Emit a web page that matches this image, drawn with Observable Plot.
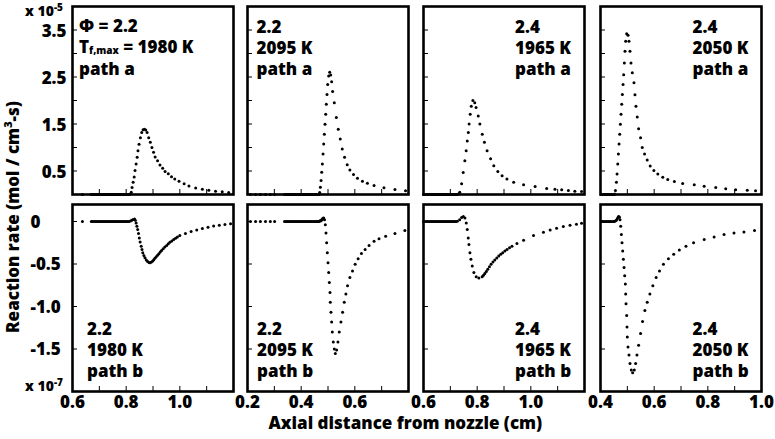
<!DOCTYPE html>
<html><head><meta charset="utf-8">
<script src="https://cdn.jsdelivr.net/npm/d3@7"></script>
<script src="https://cdn.jsdelivr.net/npm/@observablehq/plot@0.6"></script>
<style>
body{margin:0;background:#fff;}
#chart{position:relative;width:775px;height:439px;font-family:"Open Sans",sans-serif;font-weight:800;color:#000;overflow:hidden;background:#fff}
.ann{position:absolute;font-size:17px;line-height:21px;white-space:nowrap}
.ann sub{font-size:10px;line-height:0;vertical-align:-1px}
.mult{position:absolute;font-size:14px;line-height:14px;white-space:nowrap}
.mult sup{font-size:10px;line-height:0;vertical-align:5px}
.ytitle{position:absolute;font-size:17px;line-height:18px;white-space:nowrap;transform-origin:center center}
.ytitle sup{font-size:11px;line-height:0;vertical-align:7px}
.xtitle{position:absolute;font-size:17px;line-height:16px;white-space:nowrap}
</style></head><body><div id="chart"></div><script>
// ---------------- data (x in cm, top rows in 1e-5, bottom rows in 1e-7 mol/cm3-s) ----------------
const phiLabels = ["2.2", "2.2", "2.4", "2.4"];
const tempLabels = ["1980 K", "2095 K", "1965 K", "2050 K"];
const xDomains = [[0.6, 1.2], [0.2, 0.8], [0.6, 1.2], [0.4, 1.0]];
const xTickLabels = [[0.6, 0.8, 1.0], [0.2, 0.4, 0.6], [0.6, 0.8, 1.0], [0.4, 0.6, 0.8, 1.0]];
const xMinorTicks = [[0.7, 0.8, 0.9, 1.0, 1.1], [0.3, 0.4, 0.5, 0.6, 0.7], [0.7, 0.8, 0.9, 1.0, 1.1], [0.5, 0.6, 0.7, 0.8, 0.9]];
const yTopDomain = [0, 4];
const yBotDomain = [-2, 0.2];
const yTopLabels = [0.5, 1.5, 2.5, 3.5];
const yTopTicks = [0.5, 1, 1.5, 2, 2.5, 3, 3.5];
const yBotLabels = [0, -0.5, -1.0, -1.5];

// x positions of the flat (zero-rate) grid points before each flame, per column
const flat_22_1980 = [0.637,0.670,0.675,0.680,0.685,0.690,0.695,0.700,0.705,0.710,0.715,0.720,0.725,0.730,0.735,0.740,0.745,0.750,0.755,0.760,0.765,0.770,0.775,0.780,0.785,0.790,0.795,0.800,0.805,0.810];
const flat_22_2095 = [0.211,0.230,0.248,0.267,0.285,0.301,0.338,0.343,0.348,0.353,0.358,0.363,0.368,0.373,0.378,0.383,0.388,0.393,0.398,0.403,0.408,0.413,0.418,0.423,0.428,0.433,0.438,0.443,0.448,0.453,0.458,0.463,0.466];
const flat_24_1965 = [0.600,0.605,0.610,0.615,0.620,0.625,0.630,0.635,0.640,0.645,0.650,0.655,0.660,0.665,0.670,0.675,0.680,0.685,0.690,0.695,0.700,0.705,0.710,0.715,0.720];
const flat_24_2050 = [0.403,0.408,0.413,0.418,0.423,0.428,0.433,0.438,0.443,0.448,0.451];

const pathA_22_1980 = [[0.816,0.01],
 [0.819,0.05],[0.822,0.15],[0.826,0.26],[0.830,0.37],[0.833,0.51],[0.837,0.65],[0.841,0.79],[0.844,0.93],[0.848,1.07],[0.853,1.21],[0.858,1.32],[0.863,1.38],[0.868,1.39],[0.873,1.37],
 [0.878,1.32],[0.884,1.21],[0.890,1.11],[0.896,1.00],[0.902,0.90],[0.908,0.80],[0.917,0.72],[0.926,0.63],[0.936,0.56],[0.945,0.49],[0.957,0.44],[0.969,0.38],[0.981,0.33],[0.997,0.28],
 [1.016,0.23],[1.034,0.18],[1.059,0.14],[1.084,0.11],[1.108,0.09],[1.133,0.07],[1.158,0.057],[1.182,0.042]];

const pathB_22_1980 = [
 [0.816,0.005],[0.821,0.015],[0.826,0.024],[0.831,0.029],[0.834,0.015],[0.837,-0.018],[0.840,-0.055],[0.843,-0.095],[0.846,-0.14],[0.849,-0.193],[0.852,-0.24],[0.856,-0.29],[0.859,-0.33],
 [0.862,-0.368],[0.866,-0.40],[0.870,-0.426],[0.875,-0.452],[0.880,-0.472],[0.885,-0.482],[0.889,-0.484],[0.894,-0.476],[0.899,-0.464],[0.903,-0.449],[0.907,-0.433],[0.912,-0.416],
 [0.917,-0.398],[0.922,-0.38],[0.927,-0.36],[0.932,-0.34],[0.938,-0.32],[0.944,-0.30],[0.951,-0.281],[0.957,-0.262],[0.963,-0.243],[0.970,-0.228],[0.977,-0.212],[0.984,-0.196],
 [0.991,-0.181],[1.000,-0.166],[1.021,-0.141],[1.042,-0.118],[1.063,-0.099],[1.084,-0.083],[1.105,-0.067],[1.126,-0.054],[1.147,-0.044],[1.168,-0.034],[1.189,-0.026]];

const pathA_22_2095 = [[0.469,0.04],
 [0.4716,0.155],[0.4741,0.296],[0.4765,0.472],[0.479,0.649],[0.4815,0.861],[0.484,1.072],[0.4864,1.284],[0.4889,1.496],[0.4914,1.707],[0.4938,1.919],[0.4963,2.13],[0.4988,2.34],
 [0.5025,2.52],[0.5062,2.60],[0.5099,2.54],[0.5136,2.40],[0.5173,2.19],[0.5235,1.95],[0.5309,1.64],[0.5383,1.39],[0.5457,1.18],[0.5531,0.967],[0.5617,0.79],[0.5716,0.635],
 [0.5815,0.522],[0.5951,0.423],[0.6099,0.345],[0.6284,0.282],[0.6469,0.24],[0.6716,0.19],[0.7086,0.141],[0.7494,0.106],[0.7889,0.078]];

const pathB_22_2095 = [
 [0.469,0.005],[0.4716,0.008],[0.4741,0.01],[0.4765,0.02],[0.479,0.03],[0.4815,0.038],[0.484,0.04],[0.487,0.02],[0.490,-0.037],[0.4926,-0.134],[0.495,-0.25],[0.4975,-0.368],[0.5,-0.484],[0.5025,-0.60],
 [0.505,-0.717],[0.5074,-0.834],[0.5086,-0.95],[0.511,-1.067],[0.5136,-1.183],[0.516,-1.30],[0.5198,-1.417],[0.5235,-1.50],[0.5272,-1.552],[0.5321,-1.513],[0.537,-1.417],
 [0.542,-1.30],[0.5481,-1.183],[0.5543,-1.067],[0.5605,-0.95],[0.5667,-0.852],[0.5728,-0.756],[0.5815,-0.659],[0.5914,-0.581],[0.6012,-0.503],[0.6123,-0.437],[0.6247,-0.375],
 [0.6383,-0.328],[0.6531,-0.281],[0.6716,-0.231],[0.6901,-0.204],[0.7148,-0.173],[0.7494,-0.142],[0.7864,-0.107]];

const pathA_24_1965 = [[0.725,0],[0.730,0.01],
 [0.735,0.05],[0.742,0.23],[0.748,0.47],[0.754,0.72],[0.759,0.93],[0.763,1.14],[0.767,1.32],[0.770,1.50],[0.774,1.71],[0.778,1.88],[0.784,2.00],[0.791,1.95],[0.796,1.85],
 [0.804,1.67],[0.810,1.50],[0.819,1.28],[0.827,1.11],[0.837,0.93],[0.850,0.76],[0.862,0.61],[0.877,0.49],[0.893,0.40],[0.911,0.33],[0.936,0.26],[0.973,0.21],[1.016,0.17],
 [1.059,0.13],[1.090,0.11],[1.115,0.10],[1.140,0.085],[1.164,0.07],[1.189,0.063]];

const pathB_24_1965 = [
 [0.726,0.002],[0.7347,0.021],[0.7421,0.048],[0.7483,0.06],[0.7544,0.04],[0.7594,-0.018],[0.7631,-0.095],[0.7668,-0.193],[0.7693,-0.27],[0.773,-0.368],[0.7767,-0.445],
 [0.7816,-0.523],[0.7878,-0.60],[0.7964,-0.651],[0.8063,-0.666],[0.8186,-0.651],[0.8236,-0.633],[0.8285,-0.612],[0.834,-0.587],[0.8396,-0.561],[0.8457,-0.532],[0.8519,-0.503],
 [0.8587,-0.477],[0.8656,-0.453],[0.873,-0.429],[0.8804,-0.406],[0.8878,-0.386],[0.8952,-0.368],[0.9032,-0.347],[0.9112,-0.328],[0.9205,-0.308],[0.9297,-0.29],[0.9483,-0.258],
 [0.973,-0.22],[1.01,-0.165],[1.047,-0.125],[1.072,-0.10],[1.096,-0.078],[1.121,-0.06],[1.146,-0.045],[1.17,-0.032],[1.189,-0.022]];

const pathA_24_2050 = [[0.453,0.01],
 [0.4556,0.085],[0.4593,0.261],[0.4617,0.437],[0.4642,0.649],[0.4667,0.861],[0.4691,1.072],[0.4716,1.284],[0.4741,1.496],[0.4765,1.707],[0.479,1.919],[0.4815,2.13],[0.484,2.34],
 [0.4864,2.55],[0.4889,2.80],[0.4914,3.05],[0.4938,3.26],[0.4975,3.42],[0.5025,3.39],[0.5062,3.26],[0.5099,3.05],[0.5136,2.80],[0.5185,2.59],[0.5247,2.38],[0.5284,2.12],
 [0.5321,1.88],[0.537,1.65],[0.542,1.40],[0.5494,1.21],[0.5556,1.00],[0.5642,0.861],[0.5741,0.734],[0.5852,0.607],[0.5988,0.508],[0.6136,0.437],[0.6321,0.367],[0.6506,0.317],
 [0.6753,0.275],[0.7062,0.233],[0.7494,0.205],[0.7864,0.176],[0.8296,0.148],[0.8667,0.12],[0.9037,0.099],[0.9469,0.092],[0.9778,0.078]];

const pathB_24_2050 = [
 [0.455,0.005],[0.459,0.015],[0.463,0.035],[0.466,0.052],[0.468,0.06],[0.4705,0.05],[0.4728,0.021],[0.4753,-0.056],[0.4778,-0.153],[0.4802,-0.251],[0.4827,-0.348],[0.4852,-0.445],
 [0.4877,-0.542],[0.4901,-0.639],[0.4926,-0.736],[0.4938,-0.853],[0.4951,-0.969],[0.4975,-1.105],[0.4988,-1.242],[0.5,-1.358],[0.5025,-1.475],[0.5062,-1.572],[0.5099,-1.67],
 [0.5148,-1.746],[0.5198,-1.778],[0.5259,-1.746],[0.5309,-1.67],[0.5358,-1.572],[0.542,-1.455],[0.5494,-1.319],[0.5568,-1.175],[0.5654,-1.047],[0.5741,-0.95],[0.584,-0.853],
 [0.5951,-0.756],[0.6074,-0.659],[0.6198,-0.581],[0.6346,-0.503],[0.6531,-0.437],[0.6728,-0.386],[0.6938,-0.336],[0.7185,-0.29],[0.7469,-0.251],[0.7864,-0.212],[0.8235,-0.181],
 [0.8605,-0.153],[0.8975,-0.134],[0.9346,-0.123],[0.974,-0.107]];

const flats = [flat_22_1980, flat_22_2095, flat_24_1965, flat_24_2050];
const pathA = [pathA_22_1980, pathA_22_2095, pathA_24_1965, pathA_24_2050];
const pathB = [pathB_22_1980, pathB_22_2095, pathB_24_1965, pathB_24_2050];

// ---------------- layout ----------------
const chart = document.getElementById("chart");
const colLeft = [71.5, 246.5, 423, 599.5];
const W = 161;
const rowTop = [5.5, 204];
const rowH = [188, 187];
const M = 2;

function panel(data, xdom, ydom, xMinor, yMinor, H, extra) {
  const marks = [
    Plot.tickX(xMinor, {x: d => d, insetTop: H - 5, stroke: "black", strokeWidth: 1}),
    Plot.tickY(yMinor, {y: d => d, insetRight: W - 5, stroke: "black", strokeWidth: 1}),
    Plot.dot(data, {x: d => d[0], y: d => d[1], r: 1.5, fill: "black", stroke: null}),
    Plot.frame({stroke: "black", strokeWidth: 2.6}),
    ...extra
  ];
  const hasX = extra.some(m => m._axis === "x");
  const hasY = extra.some(m => m._axis === "y");
  return Plot.plot({
    width: W + 2 * M, height: H + 2 * M,
    marginTop: M, marginBottom: M, marginLeft: M, marginRight: M,
    x: {domain: xdom, ...(hasX ? {} : {axis: null})},
    y: {domain: ydom, ...(hasY ? {} : {axis: null})},
    style: {background: "transparent", overflow: "visible", fontFamily: "Open Sans", fontWeight: 800, fontSize: "17px", color: "black"},
    marks
  });
}

function place(svg, left, top) {
  svg.style.position = "absolute";
  svg.style.left = left + "px";
  svg.style.top = top + "px";
  chart.appendChild(svg);
}

for (let c = 0; c < 4; c++) {
  const flatPts = flats[c].map(x => [x, 0]);
  // top row: path a
  const extraTop = [];
  if (c === 0) {
    const ax = Plot.axisY(yTopLabels, {anchor: "left", tickSize: 0, tickPadding: 6, dy: 2, tickFormat: d => d.toFixed(1), fill: "black"});
    ax._axis = "y";
    extraTop.push(ax);
  }
  place(panel(flatPts.concat(pathA[c]), xDomains[c], yTopDomain, xMinorTicks[c], yTopTicks, rowH[0], extraTop), colLeft[c] - M, rowTop[0] - M);

  // bottom row: path b
  const extraBot = [];
  const axX = Plot.axisX(xTickLabels[c], {anchor: "bottom", tickSize: 0, tickPadding: 4, tickFormat: d => d.toFixed(1), fill: "black"});
  axX._axis = "x";
  extraBot.push(axX);
  if (c === 0) {
    const ay = Plot.axisY(yBotLabels, {anchor: "left", tickSize: 0, tickPadding: 42, textAnchor: "start", dy: 1, tickFormat: d => d === 0 ? "0" : d.toFixed(1), fill: "black"});
    ay._axis = "y";
    extraBot.push(ay);
  }
  place(panel(flatPts.concat(pathB[c]), xDomains[c], yBotDomain, xMinorTicks[c], yBotLabels, rowH[1], extraBot), colLeft[c] - M, rowTop[1] - M);
}

// ---------------- annotations ----------------
function addDiv(cls, html, left, top) {
  const d = document.createElement("div");
  d.className = cls;
  d.innerHTML = html;
  d.style.left = left + "px";
  d.style.top = top + "px";
  chart.appendChild(d);
  return d;
}
const annLeftTop = [79, 256.5, 515, 692.5];
const annLeftBot = [87, 257, 515, 692.5];
addDiv("ann", "Φ = " + phiLabels[0], annLeftTop[0], 14.5);
addDiv("ann", "T<sub>f,max</sub> = " + tempLabels[0], annLeftTop[0], 35.5);
addDiv("ann", "path a", annLeftTop[0], 58);
for (let c = 1; c < 4; c++) addDiv("ann", phiLabels[c] + "<br>" + tempLabels[c] + "<br>path a", annLeftTop[c], 15.5);
for (let c = 0; c < 4; c++) addDiv("ann", phiLabels[c] + "<br>" + tempLabels[c] + "<br>path b", annLeftBot[c], 317.5);

addDiv("mult", "x 10<sup>-5</sup>", 25, 4);
addDiv("mult", "x 10<sup>-7</sup>", 25, 379);

const yt = addDiv("ytitle", "Reaction rate (mol / cm<sup>3</sup>-s)", 0, 0);
const yw = yt.offsetWidth, yh = yt.offsetHeight;
yt.style.left = (13 - yw / 2) + "px";
yt.style.top = (217 - yh / 2) + "px";
yt.style.transform = "rotate(-90deg)";

const xt = addDiv("xtitle", "Axial distance from nozzle (cm)", 0, 415);
xt.style.left = (405.5 - xt.offsetWidth / 2) + "px";
</script></body></html>
